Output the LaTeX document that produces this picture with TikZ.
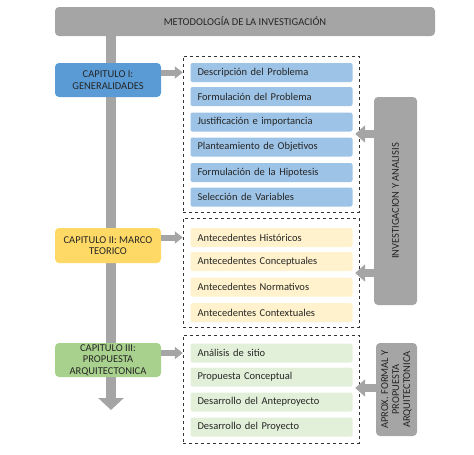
\documentclass[tikz,border=0pt]{standalone}
\usepackage{fontspec}
\setmainfont{Carlito}
\usetikzlibrary{arrows.meta}

\definecolor{gris}{HTML}{A5A5A5}
\definecolor{azul}{HTML}{5B9BD5}
\definecolor{azulclaro}{HTML}{9DC3E6}
\definecolor{amarillo}{HTML}{FFD966}
\definecolor{amarilloclaro}{HTML}{FFF2CC}
\definecolor{verde}{HTML}{A9D18E}
\definecolor{verdeclaro}{HTML}{E2F0D9}
\definecolor{texto}{HTML}{262626}

\tikzset{
  capitulo/.style={shape=rectangle, rounded corners=4pt, minimum width=106, minimum height=34,
    align=center, text=texto, inner sep=1pt, font=\fontsize{10.5}{11.5}\selectfont},
  tema/.style={shape=rectangle, rounded corners=2pt, text width=148, inner xsep=7, inner ysep=0,
    minimum height=19, align=left, text=texto, font=\fontsize{10.5}{12}\selectfont},
  grupo/.style={shape=rectangle, draw=black!80, dashed, minimum width=176},
  lado/.style={shape=rectangle, rounded corners=4pt, fill=gris, rotate=90, align=center,
    text=texto, inner sep=1pt, font=\fontsize{10.5}{11}\selectfont},
  flecha/.style={draw=gris, line width=6pt, -{Triangle[length=8pt, width=12pt]}},
  flechalado/.style={draw=gris, line width=8pt, -{Triangle[length=10pt, width=17pt]}},
  tronco/.style={draw=gris, line width=10pt, -{Triangle[length=12pt, width=25pt]}}
}

\begin{document}
\begin{tikzpicture}[x=1pt,y=1pt]
                \useasboundingbox (0,0) rectangle (474,-455);

                \node[shape=rectangle, rounded corners=4pt, fill=gris, minimum width=380, minimum height=29,
                  text=texto, font=\fontsize{10.5}{12}\selectfont] (titulo) at (245,-21.5) {METODOLOGÍA DE LA INVESTIGACIÓN};

                \coordinate (fin) at (111,-410);
                \draw[tronco] (titulo.south -| fin) -- (fin);

                \node[capitulo, fill=azul] (cap1) at (108,-80) {CAPITULO I:\\GENERALIDADES};
                \node[capitulo, fill=amarillo, minimum height=35] (cap2) at (108,-245.5) {CAPITULO II: MARCO\\TEORICO};
                \node[capitulo, fill=verde] (cap3) at (108,-360) {CAPITULO III:\\PROPUESTA\\ARQUITECTONICA};

                \node[grupo, minimum height=156] (grupo1) at (271,-134) {};
                \node[grupo, minimum height=109] (grupo2) at (271,-272.5) {};
                \node[grupo, minimum height=108] (grupo3) at (271,-389) {};

                \node[tema, fill=azulclaro] (t11) at (271.5,-72.5) {Descripción del Problema};
                \node[tema, fill=azulclaro] (t12) at (271.5,-96.5) {Formulación del Problema};
                \node[tema, fill=azulclaro] (t13) at (271.5,-122) {Justificación e importancia};
                \node[tema, fill=azulclaro] (t14) at (271.5,-147) {Planteamiento de Objetivos};
                \node[tema, fill=azulclaro] (t15) at (271.5,-172.5) {Formulación de la Hipotesis};
                \node[tema, fill=azulclaro] (t16) at (271.5,-197) {Selección de Variables};

                \node[tema, fill=amarilloclaro] (t21) at (271.5,-237.5) {Antecedentes Históricos};
                \node[tema, fill=amarilloclaro] (t22) at (271.5,-261.5) {Antecedentes Conceptuales};
                \node[tema, fill=amarilloclaro] (t23) at (271.5,-287) {Antecedentes Normativos};
                \node[tema, fill=amarilloclaro] (t24) at (271.5,-312.5) {Antecedentes Contextuales};

                \node[tema, fill=verdeclaro] (t31) at (271.5,-353) {Análisis de sitio};
                \node[tema, fill=verdeclaro] (t32) at (271.5,-377) {Propuesta Conceptual};
                \node[tema, fill=verdeclaro] (t33) at (271.5,-402) {Desarrollo del Anteproyecto};
                \node[tema, fill=verdeclaro] (t34) at (271.5,-427) {Desarrollo del Proyecto};

                \node[lado, minimum width=208, minimum height=43] (lado1) at (395.5,-201) {INVESTIGACION Y ANALISIS};
                \node[lado, minimum width=93, minimum height=41] (lado2) at (396.5,-389.5) {APROX. FORMAL Y\\PROPUESTA\\ARQUITECTONICA};

                \draw[flecha] (cap1.east |- t11) -- (grupo1.west |- t11);
                \draw[flecha] (cap2.east |- t21) -- (grupo2.west |- t21);
                \draw[flecha] (cap3.east |- t31) -- (grupo3.west |- t31);

                \coordinate (m1) at (0,-134);
                \coordinate (m2) at (0,-273);
                \coordinate (m3) at (0,-388);
                \draw[flechalado] (lado1.north |- m1) -- ([xshift=-4pt]grupo1.east |- m1);
                \draw[flechalado] (lado1.north |- m2) -- ([xshift=-4pt]grupo2.east |- m2);
                \draw[flechalado] (lado2.north |- m3) -- ([xshift=-4pt]grupo3.east |- m3);

            \end{tikzpicture}
\end{document}
